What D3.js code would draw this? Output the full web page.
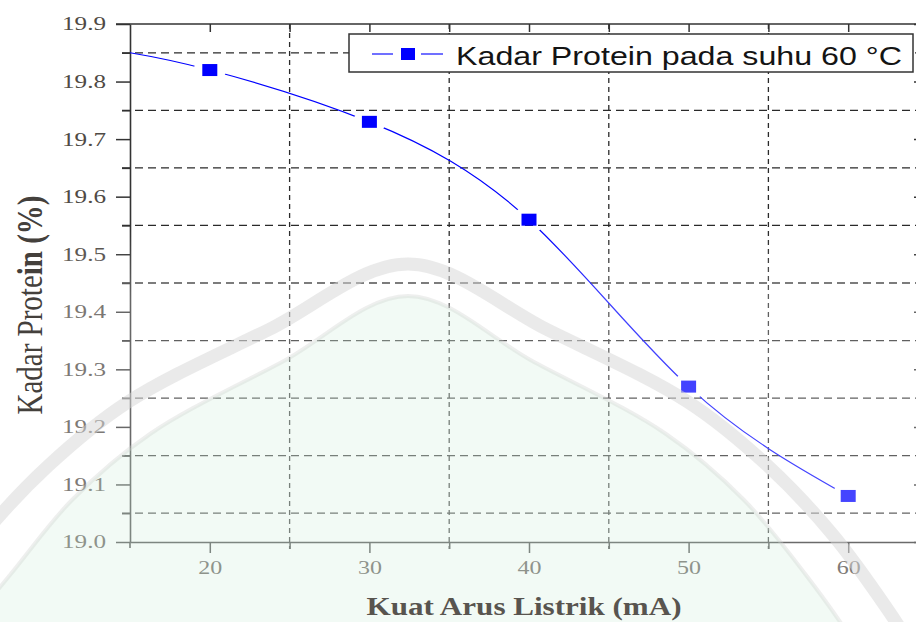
<!DOCTYPE html>
<html>
<head>
<meta charset="utf-8">
<script src="https://cdn.jsdelivr.net/npm/d3@7"></script>
<style>
  html, body { margin: 0; padding: 0; background: #ffffff; }
  svg { display: block; }
</style>
</head>
<body>
<svg id="chart" width="916" height="622"></svg>
<script>
// Measured protein content at 60 °C against electric current
const currents = [20, 30, 40, 50, 60];
const protein = [19.82, 19.73, 19.56, 19.27, 19.08];

// Smoothed fit curve: starts at the left axis edge, then passes through the measurements
const fitCurrents = [15, 20, 30, 40, 50, 60];
const fitProtein = [19.85, 19.82, 19.73, 19.56, 19.27, 19.08];

// Axis ticks
const xMajorTicks = [20, 30, 40, 50, 60];
const xMinorTicks = [25, 35, 45, 55];
const yMajorTicks = [19.0, 19.1, 19.2, 19.3, 19.4, 19.5, 19.6, 19.7, 19.8, 19.9];
const yMinorTicks = [19.05, 19.15, 19.25, 19.35, 19.45, 19.55, 19.65, 19.75, 19.85];

// Text
const legendLabel = "Kadar Protein pada suhu 60 °C";
const xTitle = "Kuat Arus Listrik (mA)";
const yTitleA = "Kadar Prote";
const yTitleB = "in (%)";

const svg = d3.select("#chart");

const x = d3.scaleLinear().domain([15, 65]).range([130, 928]);
const y = d3.scaleLinear().domain([19.0, 19.9]).range([542, 24]);

const axisColor = "#333333";
const gridColor = "#2a2a2a";
const blue = "#0000ff";
const defs = svg.append("defs");

// ---- dashed grid on the minor tick positions
const grid = svg.append("g").attr("class", "grid");
grid.selectAll("line.h").data(yMinorTicks).join("line")
  .attr("class", "h")
  .attr("x1", x(15) - 8).attr("x2", x(65))
  .attr("y1", d => y(d)).attr("y2", d => y(d))
  .attr("stroke", gridColor).attr("stroke-width", 1.3)
  .attr("stroke-dasharray", "8,5");
grid.selectAll("line.v").data(xMinorTicks).join("line")
  .attr("class", "v")
  .attr("x1", d => x(d)).attr("x2", d => x(d))
  .attr("y1", y(19.9)).attr("y2", y(19.0) + 7)
  .attr("stroke", gridColor).attr("stroke-width", 1.3)
  .attr("stroke-dasharray", "5,4");

// ---- axes
function styleAxis(g) {
  g.selectAll("path.domain").attr("stroke", axisColor).attr("stroke-width", 1.6);
  g.selectAll(".tick line").attr("stroke", axisColor).attr("stroke-width", 1.5);
}

const axisL = svg.append("g").attr("transform", `translate(${x(15)},0)`)
  .call(d3.axisLeft(y).tickValues(yMajorTicks).tickSize(14).tickSizeOuter(0)
    .tickPadding(10).tickFormat(d3.format(".1f")));
axisL.call(styleAxis);
axisL.selectAll(".tick text")
  .attr("font-family", "'Liberation Serif', 'Times New Roman', serif")
  .attr("font-size", 18.5).attr("fill", "#4f4a45")
  .attr("textLength", 44).attr("lengthAdjust", "spacingAndGlyphs");
svg.append("g").attr("transform", `translate(${x(15)},0)`)
  .call(d3.axisLeft(y).tickValues(yMinorTicks).tickSize(8).tickSizeOuter(0).tickFormat(""))
  .call(styleAxis).select("path.domain").remove();
// short extension of the left spine below the bottom axis
svg.append("line").attr("x1", x(15)).attr("x2", x(15))
  .attr("y1", y(19.0)).attr("y2", y(19.0) + 6)
  .attr("stroke", axisColor).attr("stroke-width", 1.6);

const axisB = svg.append("g").attr("transform", `translate(0,${y(19.0)})`)
  .call(d3.axisBottom(x).tickValues(xMajorTicks).tickSize(11).tickSizeOuter(0).tickPadding(8));
axisB.call(styleAxis);
axisB.selectAll(".tick text")
  .attr("font-family", "'Liberation Serif', 'Times New Roman', serif")
  .attr("font-size", 19).attr("fill", "#4f4a45")
  .attr("textLength", 24).attr("lengthAdjust", "spacingAndGlyphs");
svg.append("g").attr("transform", `translate(0,${y(19.0)})`)
  .call(d3.axisBottom(x).tickValues(xMinorTicks).tickSize(7).tickSizeOuter(0).tickFormat(""))
  .call(styleAxis).select("path.domain").remove();

const axisT = svg.append("g").attr("transform", `translate(0,${y(19.9)})`)
  .call(d3.axisTop(x).tickValues(xMajorTicks.concat(xMinorTicks)).tickSize(-8).tickSizeOuter(0).tickFormat(""));
axisT.call(styleAxis);
axisT.select("path.domain").attr("d", `M${x(15) - 14},0H${x(65)}`);

const axisR = svg.append("g").attr("transform", `translate(${x(65)},0)`)
  .call(d3.axisRight(y).tickValues(yMajorTicks).tickSize(-14).tickSizeOuter(0).tickFormat(""));
axisR.call(styleAxis);
svg.append("g").attr("transform", `translate(${x(65)},0)`)
  .call(d3.axisRight(y).tickValues(yMinorTicks).tickSize(-8).tickSizeOuter(0).tickFormat(""))
  .call(styleAxis).select("path.domain").remove();

// ---- fitted curve, broken around each marker
const mask = defs.append("mask").attr("id", "lineGaps")
  .attr("maskUnits", "userSpaceOnUse").attr("x", 0).attr("y", 0)
  .attr("width", 916).attr("height", 622);
mask.append("rect").attr("width", 916).attr("height", 622).attr("fill", "white");
mask.selectAll("ellipse").data(currents).join("ellipse")
  .attr("cx", d => x(d)).attr("cy", (d, i) => y(protein[i]))
  .attr("rx", 16).attr("ry", 14).attr("fill", "black");

const fitLine = d3.line()
  .x((d, i) => x(fitCurrents[i]))
  .y(d => y(d))
  .curve(d3.curveNatural);
svg.append("path")
  .datum(fitProtein)
  .attr("d", fitLine)
  .attr("fill", "none").attr("stroke", blue).attr("stroke-width", 1.2)
  .attr("mask", "url(#lineGaps)");

// ---- markers
const mw = 15, mh = 12;
svg.selectAll("rect.marker").data(currents).join("rect")
  .attr("class", "marker")
  .attr("x", d => x(d) - mw / 2)
  .attr("y", (d, i) => y(protein[i]) - mh / 2)
  .attr("width", mw).attr("height", mh)
  .attr("fill", blue);

// ---- legend
const lg = svg.append("g");
lg.append("rect").attr("x", 349).attr("y", 34).attr("width", 564).attr("height", 38)
  .attr("fill", "white").attr("stroke", axisColor).attr("stroke-width", 1.5);
lg.append("line").attr("x1", 372).attr("x2", 393).attr("y1", 54).attr("y2", 54)
  .attr("stroke", blue).attr("stroke-width", 1.4).attr("opacity", 0.8);
lg.append("line").attr("x1", 421).attr("x2", 443).attr("y1", 54).attr("y2", 54)
  .attr("stroke", blue).attr("stroke-width", 1.4).attr("opacity", 0.8);
lg.append("rect").attr("x", 401).attr("y", 48).attr("width", 14).attr("height", 12)
  .attr("fill", blue);
lg.append("text").attr("x", 456).attr("y", 65)
  .attr("font-family", "'Liberation Sans', Arial, sans-serif")
  .attr("font-size", 26).attr("fill", "#141414")
  .attr("textLength", 446).attr("lengthAdjust", "spacingAndGlyphs")
  .text(legendLabel);

// ---- faint watermark laid over the lower part of the chart
const wm = svg.append("g").attr("pointer-events", "none");
const haze = defs.append("linearGradient").attr("id", "haze")
  .attr("x1", 0).attr("y1", 0).attr("x2", 0).attr("y2", 1);
haze.append("stop").attr("offset", "0").attr("stop-color", "white").attr("stop-opacity", 0);
haze.append("stop").attr("offset", "0.18").attr("stop-color", "white").attr("stop-opacity", 0.25);
haze.append("stop").attr("offset", "1").attr("stop-color", "white").attr("stop-opacity", 0.28);
wm.append("rect").attr("x", 0).attr("y", 230).attr("width", 916).attr("height", 392)
  .attr("fill", "url(#haze)");

const archLine = d3.line().curve(d3.curveCatmullRom.alpha(0.5));
const band = [[-72, 610], [-17, 535], [48, 466], [128, 402], [268, 330], [408, 264],
              [548, 330], [688, 402], [768, 466], [833, 535], [888, 610], [920, 660]];
const inner = [[-60, 660], [10, 575], [72, 500], [150, 434], [282, 362], [408, 296],
               [534, 362], [666, 434], [744, 500], [806, 575], [852, 640], [880, 690]];
wm.append("path")
  .attr("d", archLine(inner) + "L880,700L-60,700Z")
  .attr("fill", "rgb(196,230,210)").attr("fill-opacity", 0.22);
wm.append("path").attr("d", archLine(inner))
  .attr("fill", "none").attr("stroke", "#cfd2cf").attr("stroke-opacity", 0.35)
  .attr("stroke-width", 4);
wm.append("path").attr("d", archLine(band))
  .attr("fill", "none").attr("stroke", "#d6d6d6").attr("stroke-opacity", 0.5)
  .attr("stroke-width", 13);

// ---- axis titles
svg.append("text")
  .attr("x", 524).attr("y", 615).attr("text-anchor", "middle")
  .attr("font-family", "'Liberation Serif', 'Times New Roman', serif")
  .attr("font-size", 25).attr("font-weight", "bold").attr("fill", "#58544f")
  .attr("textLength", 315).attr("lengthAdjust", "spacingAndGlyphs")
  .text(xTitle);

const yt = svg.append("text")
  .attr("transform", "translate(42,305) scale(1.25,1) rotate(-90)")
  .attr("text-anchor", "middle")
  .attr("font-family", "'Liberation Serif', 'Times New Roman', serif")
  .attr("font-size", 29).attr("fill", "#44403c");
yt.append("tspan").text(yTitleA);
yt.append("tspan").attr("font-weight", "bold").text(yTitleB);
</script>
</body>
</html>
